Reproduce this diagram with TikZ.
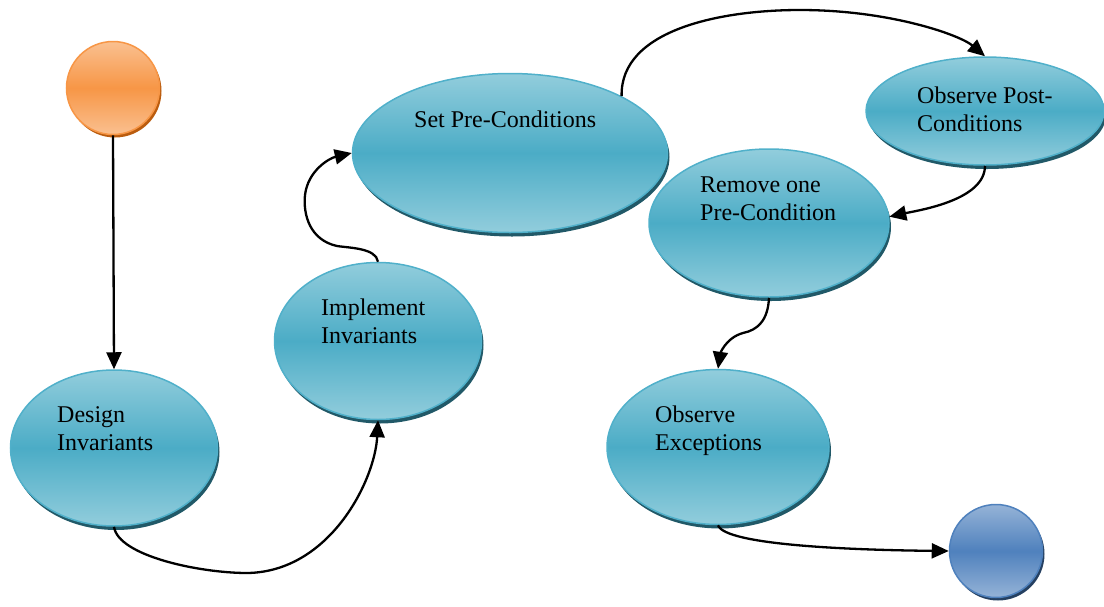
\documentclass[tikz,border=0pt]{standalone}
\usepackage{fontspec}
\setmainfont{Liberation Serif}
\usetikzlibrary{shapes.geometric,arrows.meta,shadows}
\definecolor{tlight}{RGB}{146,205,220}
\definecolor{tmid}{RGB}{75,172,198}
\definecolor{tborder}{RGB}{80,176,202}
\definecolor{tshadow}{RGB}{33,89,104}
\definecolor{olight}{RGB}{250,192,144}
\definecolor{omid}{RGB}{247,150,70}
\definecolor{oshadow}{RGB}{186,92,14}
\definecolor{blight}{RGB}{149,179,215}
\definecolor{bmid}{RGB}{79,129,189}
\definecolor{bshadow}{RGB}{37,64,97}
\tikzset{
  stateblob/.style={ellipse, inner sep=0pt, line width=1.5pt, draw=tborder,
    top color=tlight, bottom color=tlight, middle color=tmid,
    drop shadow={shadow xshift=2pt, shadow yshift=-4pt, fill=tshadow, opacity=1}},
  startblob/.style={circle, inner sep=0pt, minimum size=93pt, line width=1.5pt, draw=omid,
    top color=olight, bottom color=olight, middle color=omid,
    drop shadow={shadow xshift=2pt, shadow yshift=-3pt, fill=oshadow, opacity=1}},
  endblob/.style={circle, inner sep=0pt, minimum size=93pt, line width=1.5pt, draw=bmid,
    top color=blight, bottom color=blight, middle color=bmid,
    drop shadow={shadow xshift=2pt, shadow yshift=-3pt, fill=bshadow, opacity=1}},
  label txt/.style={anchor=base west, align=left, inner sep=0pt,
    font=\fontsize{24}{28}\selectfont},
  conn/.style={line width=2.3pt, draw=black, -{Triangle[length=17pt,width=15pt]}}
}
\begin{document}
\begin{tikzpicture}[x=1pt,y=-1pt]
\useasboundingbox (0,0) rectangle (1104,606);

\node[startblob] (start) at (113,88) {};
\node[endblob] (endc) at (996,551) {};

\node[stateblob, minimum width=207pt, minimum height=156pt] (design) at (114,448) {};
\node[stateblob, minimum width=207pt, minimum height=157pt] (impl) at (378,341) {};
\node[stateblob, minimum width=315pt, minimum height=159pt] (setpre) at (510,153) {};
\node[stateblob, minimum width=238pt, minimum height=108pt] (post) at (985,111) {};
\node[stateblob, minimum width=240pt, minimum height=148pt] (remove) at (769,223) {};
\node[stateblob, minimum width=222pt, minimum height=155pt] (exc) at (718,447) {};

% base anchor of a two-line node is the baseline of its last line
\node[label txt] (designtxt) at (57,450) {Design\\Invariants};
\node[label txt] (impltxt) at (321,343) {Implement\\Invariants};
\node[label txt] (setpretxt) at (414,127) {Set Pre-Conditions};
\node[label txt] (posttxt) at (917,131) {Observe Post-\\Conditions};
\node[label txt] (removetxt) at (700,220) {Remove one\\Pre-Condition};
\node[label txt] (exctxt) at (655,450) {Observe\\Exceptions};

\draw[conn] (start.south) -- (design.north);
\draw[conn] (design.south) .. controls (118,556) and (200,573) .. (247,573)
  .. controls (330,572) and (375,480) .. (impl.south);
\draw[conn] (impl.north) .. controls (376,248) and (350,248) .. (337,246)
  .. controls (310,240) and (303,215) .. (305,195)
  .. controls (308,170) and (330,158) .. (setpre.west);
\draw[conn] (setpre.27) .. controls (620,30) and (720,10) .. (800,10)
  .. controls (890,10) and (960,35) .. (post.north);
\draw[conn] (post.south) .. controls (985,200) and (920,210) .. (remove.3.5);
\draw[conn] (remove.south) .. controls (768,320) and (758,330) .. (743,333)
  .. controls (725,338) and (720,355) .. (exc.north);
\draw[conn] (exc.south) .. controls (725,545) and (850,550) .. (endc.west);
\end{tikzpicture}
\end{document}
